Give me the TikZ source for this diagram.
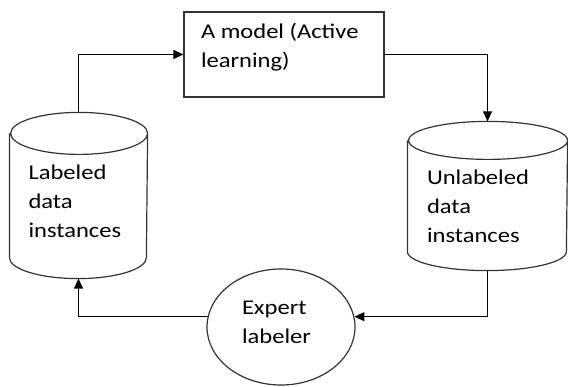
\documentclass[tikz,border=0pt]{standalone}
\usepackage{fontspec}
\setmainfont[FakeStretch=1.17]{Carlito}
\usetikzlibrary{arrows.meta,shapes.geometric}
\newcommand{\liftedtext}[3]{\raisebox{#1}[\height][\depth]{\parbox{#2}{#3}}}

\begin{document}
\begin{tikzpicture}[->, >={Triangle[length=10pt,width=9pt]}, x=20pt, y=-20pt, line width=1.2pt]
   \useasboundingbox (0,0) rectangle (28.4,19.35);
   \tikzstyle{every node}=[font=\fontsize{21}{29}\selectfont, align=left]
   \tikzstyle{store}=[rectangle, inner sep=0pt]
   \node[draw=black!80, inner xsep=17pt, inner ysep=11pt] (model) at (14.2,2.725) {\parbox[c][63pt][t]{166pt}{A model (Active\\learning)}};
   \node[store, minimum width=137pt, minimum height=165pt] (labeled) at (3.925,9.775) {\liftedtext{-6pt}{100pt}{Labeled\\data\\instances}};
   \node[store, minimum width=159pt, minimum height=148pt] (unlabeled) at (24.375,9.8) {\liftedtext{-10pt}{121pt}{Unlabeled\\data\\instances}};
   \node[ellipse, draw=black!80, minimum width=148pt, minimum height=116pt] (expert) at (14.05,16.35) {\liftedtext{5pt}{78pt}{Expert\\labeler}};
   % cylinder outlines round the two data stores
   \foreach \s/\rx/\ry in {labeled/68.5pt/21pt, unlabeled/79.5pt/19pt} {
      \draw[-, draw=black!80] ([yshift=-\ry]\s.north west) -- ([yshift=\ry]\s.south west)
         arc[start angle=180, end angle=360, x radius=\rx, y radius=\ry]
         -- ([yshift=-\ry]\s.north east)
         arc[start angle=0, end angle=360, x radius=\rx, y radius=\ry];
   }
   % the loop
   \draw (labeled.north) |- (model.west);
   \draw (model.east) -| (unlabeled.north);
   \draw (unlabeled.south) |- (expert.8);
   \draw (expert.172) -| (labeled.south);
\end{tikzpicture}
\end{document}
